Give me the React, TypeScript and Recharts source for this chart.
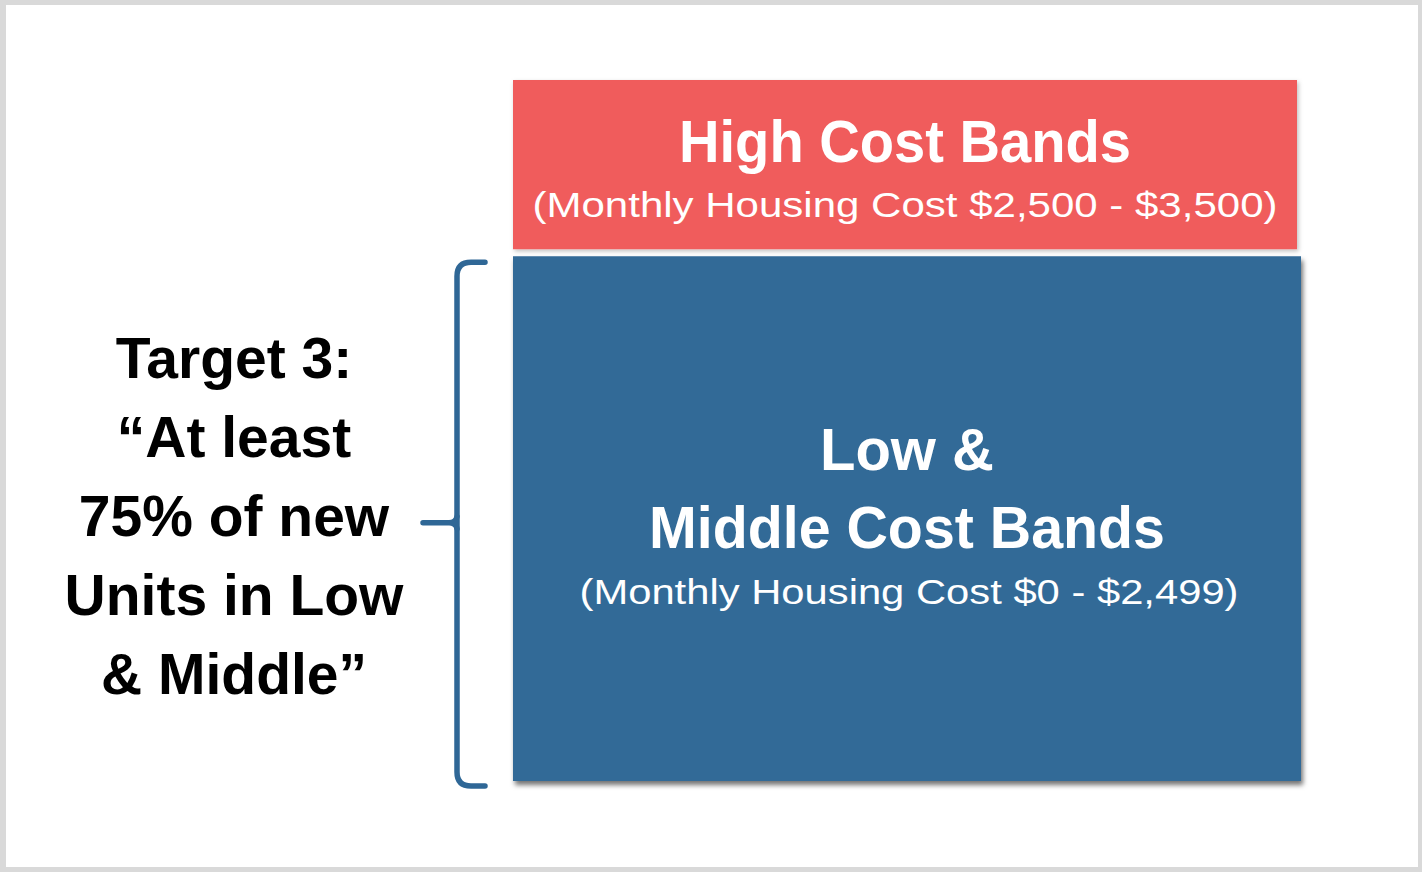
import React from 'react';
import { BarChart, Bar, XAxis, YAxis } from 'recharts';

const categories = ['New Units'];
const lowMiddleShare = [75];
const highShare = [25];

const highTitle = 'High Cost Bands';
const highSubtitle = '(Monthly  Housing Cost $2,500 - $3,500)';
const lowTitleLines = ['Low &', 'Middle Cost Bands'];
const lowSubtitle = '(Monthly  Housing Cost $0 - $2,499)';
const targetLines = ['Target 3:', '\u201CAt least', '75% of new', 'Units in Low', '& Middle\u201D'];

const data = categories.map((c, i) => ({ name: c, low: lowMiddleShare[i], high: highShare[i] }));

const RED = '#F05B5C';
const BLUE = '#336A97';
const BRACKET = '#2F6796';
const FONT = "'Liberation Sans', Arial, sans-serif";

const HighShape = (props: any) => {
  const { x, y, width, height } = props;
  const w = width - 4;
  const h = height - 6;
  const cx = x + w / 2;
  return (
    <g>
      <defs>
        <filter id="shRed" x="-5%" y="-10%" width="112%" height="125%">
          <feDropShadow dx="1.5" dy="2" stdDeviation="2" floodColor="#000" floodOpacity="0.25" />
        </filter>
      </defs>
      <rect x={x} y={y} width={w} height={h} fill={RED} filter="url(#shRed)" />
      <text x={cx} y={y + 82} textAnchor="middle" fill="#fff" fontFamily={FONT} fontWeight="bold" fontSize={59} textLength={452} lengthAdjust="spacingAndGlyphs">
        {highTitle}
      </text>
      <text x={cx} y={y + 137} textAnchor="middle" fill="#fff" fontFamily={FONT} fontSize={35} textLength={745} lengthAdjust="spacingAndGlyphs">
        {highSubtitle}
      </text>
    </g>
  );
};

const LowShape = (props: any) => {
  const { x, y, width, height } = props;
  const top = y + 1;
  const bottom = y + height;
  const cx = x + width / 2;
  const bx = x - 56;
  const tipX = x - 28;
  const midY = (top + bottom) / 2 + 4;
  const tTop = top + 6;
  const tBot = bottom + 5;
  const leftCx = x - 279;
  const centerY = (top + bottom) / 2;
  const bracket = `M${tipX},${tTop} L${bx + 14},${tTop} Q${bx},${tTop} ${bx},${tTop + 14} L${bx},${tBot - 14} Q${bx},${tBot} ${bx + 14},${tBot} L${tipX},${tBot}`;
  const tick = `M${x - 90},${midY} L${bx - 8},${midY} Q${bx - 1},${midY} ${bx},${midY - 6} M${bx - 8},${midY} Q${bx - 1},${midY} ${bx},${midY + 6}`;
  return (
    <g>
      <defs>
        <filter id="shBlue" x="-5%" y="-5%" width="112%" height="115%">
          <feDropShadow dx="2" dy="4" stdDeviation="2.5" floodColor="#000" floodOpacity="0.55" />
        </filter>
      </defs>
      <rect x={x} y={top} width={width} height={bottom - top} fill={BLUE} filter="url(#shBlue)" />
      <text x={cx} y={top + 214} textAnchor="middle" fill="#fff" fontFamily={FONT} fontWeight="bold" fontSize={59} textLength={174} lengthAdjust="spacingAndGlyphs">
        {lowTitleLines[0]}
      </text>
      <text x={cx} y={top + 292} textAnchor="middle" fill="#fff" fontFamily={FONT} fontWeight="bold" fontSize={59} textLength={516} lengthAdjust="spacingAndGlyphs">
        {lowTitleLines[1]}
      </text>
      <text x={cx + 2} y={top + 348} textAnchor="middle" fill="#fff" fontFamily={FONT} fontSize={35} textLength={659} lengthAdjust="spacingAndGlyphs">
        {lowSubtitle}
      </text>
      <path d={bracket} fill="none" stroke={BRACKET} strokeWidth={5.5} strokeLinecap="round" />
      <path d={tick} fill="none" stroke={BRACKET} strokeWidth={5.5} strokeLinecap="round" />
      {targetLines.map((t, i) => (
        <text key={i} x={leftCx} y={centerY - 141 + i * 79} textAnchor="middle" fill="#000" fontFamily={FONT} fontWeight="bold" fontSize={57}>
          {t}
        </text>
      ))}
    </g>
  );
};

export default function App() {
  return (
    <div style={{ position: 'absolute', left: 0, top: 0, width: 1422, height: 872, background: '#fff' }}>
      <div
        style={{
          position: 'absolute',
          left: 0,
          top: 0,
          width: 1422,
          height: 872,
          boxSizing: 'border-box',
          borderStyle: 'solid',
          borderColor: '#d9d9d9',
          borderTopWidth: 5,
          borderLeftWidth: 6,
          borderRightWidth: 4,
          borderBottomWidth: 5,
        }}
      />
      <div style={{ position: 'absolute', left: 0, top: 0 }}>
        <BarChart width={1422} height={872} data={data} margin={{ top: 80, right: 121, bottom: 91, left: 513 }} barCategoryGap={0}>
          <XAxis dataKey="name" hide />
          <YAxis hide domain={[0, 100]} />
          <Bar dataKey="low" stackId="a" fill={BLUE} shape={LowShape} isAnimationActive={false} />
          <Bar dataKey="high" stackId="a" fill={RED} shape={HighShape} isAnimationActive={false} />
        </BarChart>
      </div>
    </div>
  );
}
